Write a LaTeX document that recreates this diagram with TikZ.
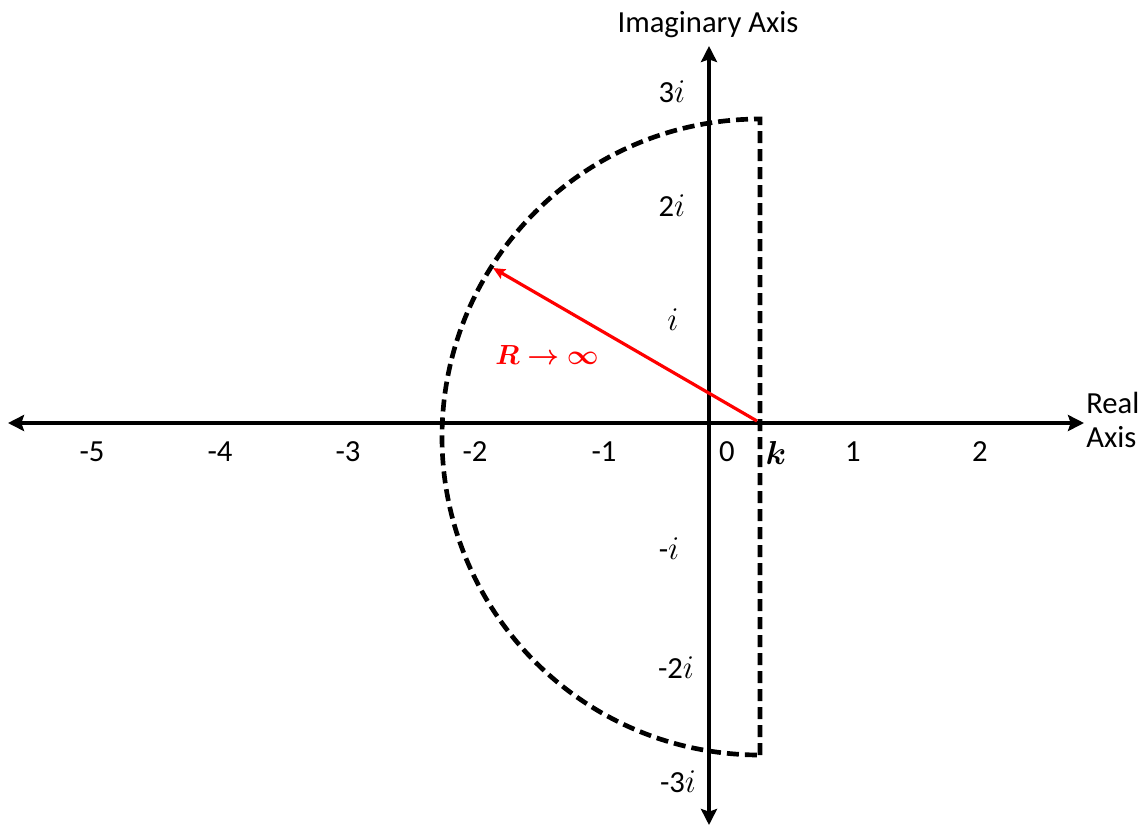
\documentclass[tikz,border=0pt]{standalone}
\usepackage{fontspec}
\setmainfont{Carlito}
\usepackage{bm}
\usetikzlibrary{arrows.meta}

\begin{document}
\begin{tikzpicture}[x=0.75pt,y=-0.75pt,axis/.style={line width=3.5pt,draw=black,{Stealth[length=12pt,width=12pt,inset=2pt]}-{Stealth[length=12pt,width=12pt,inset=2pt]}},contour/.style={line width=3.5pt,draw=black,dash pattern=on 9pt off 4.5pt},rarrow/.style={-{Stealth[length=9pt,width=8pt,inset=1.5pt]},line width=2.4pt,draw=red},lbl/.style={font=\fontsize{23}{27}\selectfont,inner sep=0pt}]
\useasboundingbox (0,0) rectangle (1142,826);
% axes
\coordinate (xl) at (8,423);
\coordinate (xr) at (1084,423);
\coordinate (yt) at (709,46);
\coordinate (yb) at (709,825);
\draw[axis] (xl) -- (xr);
\draw[axis] (yt) -- (yb);
\node[lbl] (imag) at (708,25) {Imaginary Axis};
\node[lbl,anchor=west,align=left] (real) at (1086,420) {Real\\[-2pt]Axis};
% tick labels
\node[lbl] (t-5) at (92,452) {-5};
\node[lbl] (t-4) at (220,452) {-4};
\node[lbl] (t-3) at (348,452) {-3};
\node[lbl] (t-2) at (475,452) {-2};
\node[lbl] (t-1) at (604,452) {-1};
\node[lbl] (t0) at (727,452) {0};
\node[lbl] (t1) at (853,452) {1};
\node[lbl] (t2) at (980,452) {2};
\node[lbl] (kval) at (776,453) {$\bm{k}$};
\node[lbl] (i3) at (672,92) {3$i$};
\node[lbl] (i2) at (672,206) {2$i$};
\node[lbl] (i1) at (673,320) {$i$};
\node[lbl] (im1) at (669,549) {-$i$};
\node[lbl] (im2) at (676,668) {-2$i$};
\node[lbl] (im3) at (678,782) {-3$i$};
% contour
\coordinate (ktop) at (760,119);
\coordinate (kbot) at (760,755);
\draw[contour] (kbot) -- (ktop) arc[start angle=90,end angle=270,radius=238.5pt];
% radius
\coordinate (kzero) at (757,421);
\coordinate (rtip) at (493,268);
\draw[rarrow] (kzero) -- (rtip);
\node[lbl,text=red,font=\fontsize{20}{24}\selectfont] (rlim) at (547,355) {$\bm{R\rightarrow\infty}$};
\end{tikzpicture}
\end{document}
